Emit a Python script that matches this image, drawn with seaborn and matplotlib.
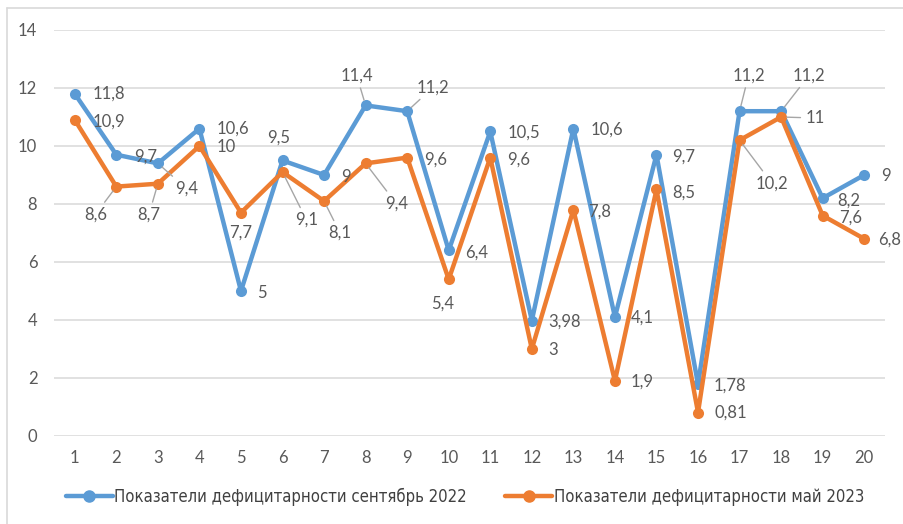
import numpy as np
import pandas as pd
import matplotlib.pyplot as plt
import seaborn as sns
from matplotlib.lines import Line2D
from matplotlib import font_manager

# data
points = list(range(1, 21))
sep_2022 = [11.8, 9.7, 9.4, 10.6, 5, 9.5, 9, 11.4, 11.2, 6.4,
            10.5, 3.98, 10.6, 4.1, 9.7, 1.78, 11.2, 11.2, 8.2, 9]
may_2023 = [10.9, 8.6, 8.7, 10, 7.7, 9.1, 8.1, 9.4, 9.6, 5.4,
            9.6, 3, 7.8, 1.9, 8.5, 0.81, 10.2, 11, 7.6, 6.8]
name_sep = "Показатели дефицитарности сентябрь 2022"
name_may = "Показатели дефицитарности май 2023"
y_ticks = [0, 2, 4, 6, 8, 10, 12, 14]

# label placement (offset in pixels, horizontal alignment, leader line)
sep_label_pos = [(18, 0, 'left', False), (18, -2, 'left', False), (17, -25, 'left', True),
                 (17, 0, 'left', False), (16, -2, 'left', False), (-4, 23, 'center', False),
                 (17, -2, 'left', False), (-9, 30, 'center', True), (26, 24, 'center', True),
                 (16, -2, 'left', False), (17, -1, 'left', False), (16, -1, 'left', False),
                 (17, -1, 'left', False), (16, -1, 'left', False), (16, -2, 'left', False),
                 (16, -1, 'left', False), (9, 36, 'center', True), (28, 36, 'center', True),
                 (15, -2, 'left', False), (17, -1, 'left', False)]
may_label_pos = [(18, -2, 'left', False), (-21, -28, 'center', True), (-9, -31, 'center', True),
                 (17, -1, 'left', False), (0, -20, 'center', False), (24, -48, 'center', True),
                 (16, -32, 'center', True), (19, -40, 'left', True), (17, -2, 'left', False),
                 (-6, -24, 'center', False), (17, -2, 'left', False), (16, -1, 'left', False),
                 (15, -2, 'left', False), (16, -1, 'left', False), (16, -3, 'left', False),
                 (16, 0, 'left', False), (16, -43, 'left', True), (24, -1, 'left', True),
                 (16, -2, 'left', False), (14, -1, 'left', False)]

df = pd.DataFrame({
    'point': points * 2,
    'value': sep_2022 + may_2023,
    'series': [name_sep] * len(points) + [name_may] * len(points),
})

sns.set_theme(style="white")
plt.rcParams['font.family'] = ['Lato', 'DejaVu Sans']

# legend font: a narrow face if one is installed
fonts = font_manager.fontManager.ttflist
legend_prop = {'family': ['Liberation Sans', 'DejaVu Sans'], 'size': 11.6}
if any(f.name == 'Liberation Sans Narrow' for f in fonts):
    legend_prop = {'family': ['Liberation Sans Narrow', 'DejaVu Sans'], 'size': 13}
elif any(f.name == 'DejaVu Sans' and f.stretch == 'condensed' for f in fonts):
    legend_prop = {'family': ['DejaVu Sans'], 'stretch': 'condensed', 'size': 12}

fig = plt.figure(figsize=(9.04, 5.24), dpi=100)
ax = fig.add_axes([54 / 904, 88 / 524, 831 / 904, 406 / 524])

palette = {name_sep: '#5b9bd5', name_may: '#ed7d31'}
sns.lineplot(data=df, x='point', y='value', hue='series', palette=palette,
             marker='o', markersize=8, markeredgewidth=0, linewidth=3.2,
             ax=ax, legend=False)

ax.set_xlim(0.5, 20.5)
ax.set_ylim(0, 14)
ax.set_xticks(points)
ax.set_yticks(y_ticks)
ax.grid(axis='y', color='#d9d9d9', linewidth=1.1)
ax.grid(axis='x', visible=False)
ax.set_axisbelow(True)
for s in ax.spines.values():
    s.set_visible(False)
ax.tick_params(axis='both', length=0, labelsize=12, labelcolor='#595959')
ax.tick_params(axis='y', pad=12)
ax.tick_params(axis='x', pad=10)
ax.set_xlabel('')
ax.set_ylabel('')


def fmt(v):
    return ('%g' % v).replace('.', ',')


for vals, pos in [(sep_2022, sep_label_pos), (may_2023, may_label_pos)]:
    for x, v, (dx, dy, ha, lead) in zip(points, vals, pos):
        arrow = None
        if lead:
            arrow = dict(arrowstyle='-', color='#a6a6a6', lw=1, shrinkA=1, shrinkB=4)
        ax.annotate(fmt(v), xy=(x, v), xytext=(dx, dy), textcoords='offset pixels',
                    ha=ha, va='center', fontsize=12, color='#595959',
                    arrowprops=arrow, zorder=5)

# chart border lines (left and top)
fig.add_artist(Line2D([7 / 904, 7 / 904], [0, 1 - 8 / 524], transform=fig.transFigure,
                      color='#d9d9d9', lw=1.2))
fig.add_artist(Line2D([7 / 904, 1], [1 - 8 / 524, 1 - 8 / 524], transform=fig.transFigure,
                      color='#d9d9d9', lw=1.2))

handles = [Line2D([], [], color='#5b9bd5', lw=3.2, marker='o', markersize=8),
           Line2D([], [], color='#ed7d31', lw=3.2, marker='o', markersize=8)]
fig.legend(handles, [name_sep, name_may], loc='center', bbox_to_anchor=(465 / 904, 1 - 497 / 524),
           ncol=2, frameon=False, handlelength=2.8, handletextpad=0.1, columnspacing=2.3,
           prop=legend_prop, labelcolor='#404040')

fig.savefig('out.png', dpi=100)
